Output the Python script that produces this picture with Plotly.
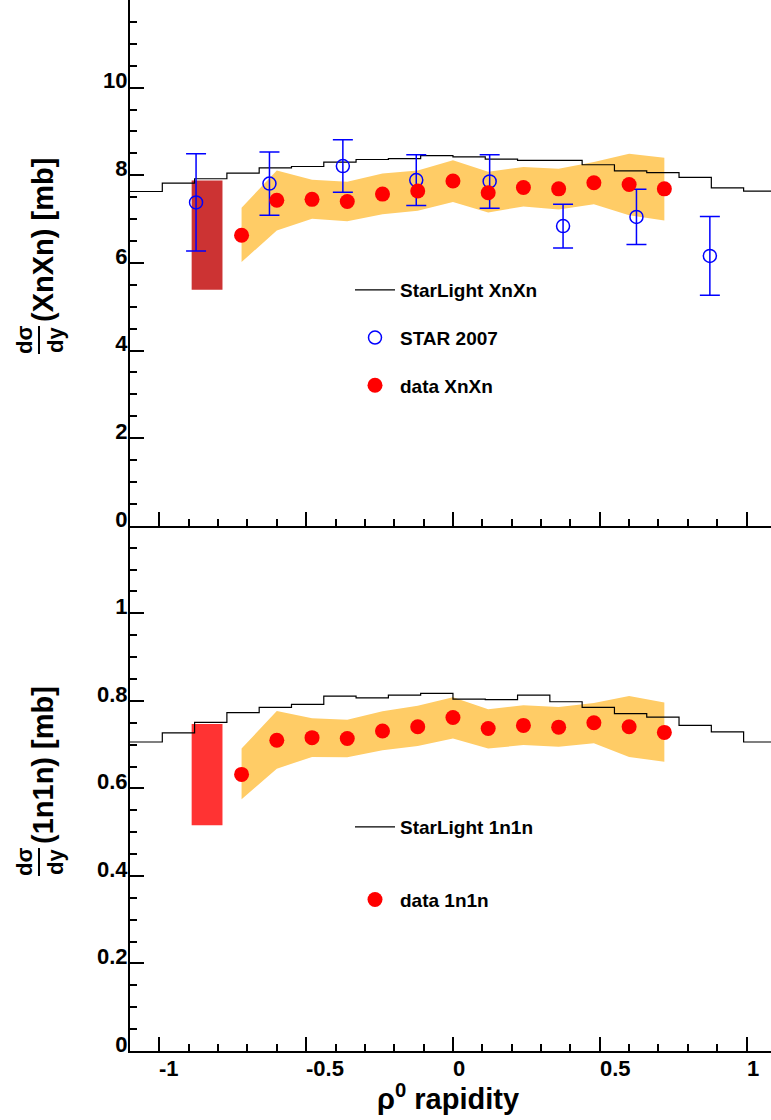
import plotly.graph_objects as go

# ---------------- data ----------------
rap_points = [-0.72, -0.60, -0.48, -0.36, -0.24, -0.12, 0.0, 0.12, 0.24, 0.36, 0.48, 0.60, 0.72]

xnxn_data = [6.63, 7.43, 7.45, 7.40, 7.57, 7.64, 7.87, 7.60, 7.72, 7.69, 7.83, 7.79, 7.69]
xnxn_sys_hi = [7.26, 8.11, 7.90, 7.85, 8.04, 8.11, 8.34, 8.08, 8.19, 8.15, 8.30, 8.49, 8.40]
xnxn_sys_lo = [6.02, 6.74, 7.01, 6.95, 7.11, 7.19, 7.39, 7.15, 7.29, 7.22, 7.34, 7.09, 6.97]

n1n1_data = [0.632, 0.710, 0.716, 0.714, 0.731, 0.741, 0.762, 0.737, 0.744, 0.740, 0.750, 0.741, 0.728]
n1n1_sys_hi = [0.691, 0.777, 0.760, 0.757, 0.776, 0.789, 0.808, 0.781, 0.790, 0.786, 0.795, 0.811, 0.796]
n1n1_sys_lo = [0.575, 0.645, 0.672, 0.671, 0.687, 0.697, 0.714, 0.691, 0.699, 0.695, 0.703, 0.672, 0.661]

star_x = [-0.875, -0.625, -0.375, -0.125, 0.125, 0.375, 0.625, 0.875]
star_y = [7.38, 7.81, 8.21, 7.89, 7.86, 6.84, 7.05, 6.16]
star_err = [1.11, 0.72, 0.60, 0.58, 0.61, 0.50, 0.63, 0.90]

sl_edges = [-1.10, -0.99, -0.88, -0.77, -0.66, -0.55, -0.44, -0.33, -0.22, -0.11, 0.0,
            0.11, 0.22, 0.33, 0.44, 0.55, 0.66, 0.77, 0.88, 0.99, 1.10]
sl_xnxn = [7.63, 7.82, 7.92, 8.05, 8.17, 8.20, 8.30, 8.36, 8.38, 8.45,
           8.42, 8.37, 8.34, 8.34, 8.24, 8.10, 8.06, 7.95, 7.71, 7.64]
sl_1n1n = [0.706, 0.727, 0.751, 0.773, 0.785, 0.792, 0.811, 0.807, 0.813, 0.817,
           0.804, 0.803, 0.813, 0.798, 0.785, 0.771, 0.763, 0.744, 0.729, 0.706]

norm_box_x = [-0.89, -0.785]
xnxn_norm = [5.39, 7.88]
n1n1_norm = [0.516, 0.747]

x_tick_vals = [-1, -0.5, 0, 0.5, 1]
x_tick_text = ["-1", "-0.5", "0", "0.5", "1"]
top_tick_vals = [0, 2, 4, 6, 8, 10]
top_tick_text = ["0", "2", "4", "6", "8", "10"]
bot_tick_vals = [0, 0.2, 0.4, 0.6, 0.8, 1.0]
bot_tick_text = ["0", "0.2", "0.4", "0.6", "0.8", "1"]

# ---------------- style ----------------
FONT = "Liberation Sans, Arial, Helvetica, sans-serif"
BAND = "#ffcc66"
W, H = 771, 1120
ML, MB = 130, 69
PW, PH = W - ML, H - MB
SPLIT = 1 - 525.8 / PH


def px_x(p):
    return (p - ML) / PW


def px_y(p):
    return (PH - p) / PH


fig = go.Figure()


def add_panel(xa, ya, hi, lo, sl, norm, norm_color, sl_name, legend):
    fig.add_trace(go.Scatter(
        x=rap_points + rap_points[::-1], y=hi + lo[::-1], fill="toself",
        fillcolor=BAND, line=dict(width=0), mode="lines", hoverinfo="skip",
        showlegend=False, xaxis=xa, yaxis=ya))
    bx = [norm_box_x[0], norm_box_x[1], norm_box_x[1], norm_box_x[0]]
    by = [norm[0], norm[0], norm[1], norm[1]]
    fig.add_trace(go.Scatter(
        x=bx, y=by, fill="toself", fillcolor=norm_color, line=dict(width=0),
        mode="lines", showlegend=False, xaxis=xa, yaxis=ya))
    fig.add_trace(go.Scatter(
        x=sl_edges, y=sl + [sl[-1]], mode="lines",
        line=dict(color="black", width=1.2, shape="hv"),
        name=sl_name, legend=legend, legendgroup=sl_name, xaxis=xa, yaxis=ya))


# top panel
add_panel("x2", "y2", xnxn_sys_hi, xnxn_sys_lo, sl_xnxn, xnxn_norm, "#cc3333",
          "StarLight XnXn", "legend")
fig.add_trace(go.Scatter(
    x=star_x, y=star_y, mode="markers", name="STAR 2007", legend="legend", legendgroup="star",
    marker=dict(symbol="circle-open", size=13, color="blue", line=dict(width=1.5, color="blue")),
    error_y=dict(type="data", array=star_err, color="blue", thickness=1.5, width=10),
    xaxis="x2", yaxis="y2"))
fig.add_trace(go.Scatter(
    x=rap_points, y=xnxn_data, mode="markers", name="data XnXn", legend="legend",
    legendgroup="dataX", marker=dict(symbol="circle", size=15, color="red"),
    xaxis="x2", yaxis="y2"))

# bottom panel
add_panel("x", "y", n1n1_sys_hi, n1n1_sys_lo, sl_1n1n, n1n1_norm, "#ff3333",
          "StarLight 1n1n", "legend2")
fig.add_trace(go.Scatter(
    x=rap_points, y=n1n1_data, mode="markers", name="data 1n1n", legend="legend2",
    legendgroup="data1", marker=dict(symbol="circle", size=15, color="red"),
    xaxis="x", yaxis="y"))

tickfont = dict(family=FONT, size=22, color="black", weight="bold")
common_x = dict(range=[-1.1, -1.1 + PW / 293.6], showgrid=False, zeroline=False,
                showline=True, linecolor="black", linewidth=2,
                ticks="inside", ticklen=14, tickwidth=1.5, tickcolor="black",
                tickvals=x_tick_vals, showticklabels=False,
                minor=dict(dtick=0.1, ticks="inside", ticklen=7, tickwidth=1.5, tickcolor="black"))
common_y = dict(showgrid=False, zeroline=False, showline=True, linecolor="black", linewidth=2,
                ticks="inside", ticklen=14, tickwidth=1.5, tickcolor="black",
                tickfont=tickfont, ticklabelshift=-7, ticklabelstandoff=-4)

fig.update_layout(
    width=W, height=H, margin=dict(l=ML, r=0, t=0, b=MB),
    paper_bgcolor="white", plot_bgcolor="white",
    xaxis=dict(domain=[0, 1], anchor="y", **common_x),
    xaxis2=dict(domain=[0, 1], anchor="y2", matches="x", **common_x),
    yaxis=dict(domain=[0, SPLIT], anchor="x", range=[0, 1.2], tickvals=bot_tick_vals,
               ticktext=bot_tick_text,
               minor=dict(dtick=0.05, ticks="inside", ticklen=7, tickwidth=1.5, tickcolor="black"),
               **common_y),
    yaxis2=dict(domain=[SPLIT, 1], anchor="x2", range=[0, 12], tickvals=top_tick_vals,
                ticktext=top_tick_text,
                minor=dict(dtick=0.5, ticks="inside", ticklen=7, tickwidth=1.5, tickcolor="black"),
                **common_y),
    legend=dict(x=px_x(350), y=px_y(271), xanchor="left", yanchor="top",
                bgcolor="rgba(0,0,0,0)", itemwidth=40, tracegroupgap=20, traceorder="grouped",
                font=dict(family=FONT, size=19, color="black", weight="bold")),
    legend2=dict(x=px_x(350), y=px_y(808), xanchor="left", yanchor="top",
                 bgcolor="rgba(0,0,0,0)", itemwidth=40, tracegroupgap=45, traceorder="grouped",
                 font=dict(family=FONT, size=19, color="black", weight="bold")),
)

ann = []
for v, t in zip(x_tick_vals, x_tick_text):
    ann.append(dict(x=v, y=px_y(1068), xref="x", yref="paper", text=t, showarrow=False,
                    xanchor="left", yanchor="middle", xshift=-2, font=tickfont))

title_font = dict(family=FONT, size=29, color="black", weight="bold")
frac_font = dict(family=FONT, size=22, color="black", weight="bold")
ann.append(dict(x=px_x(448), y=px_y(1097), xref="paper", yref="paper",
                text="ρ<sup>0</sup> rapidity", showarrow=False, xanchor="center",
                yanchor="middle", font=title_font))

for main_text, cy_main, cy_frac in [("(XnXn) [mb]", 240, 340), ("(1n1n) [mb]", 765, 862)]:
    ann.append(dict(x=px_x(43), y=px_y(cy_main), xref="paper", yref="paper", text=main_text,
                    textangle=-90, showarrow=False, xanchor="center", yanchor="middle",
                    font=title_font))
    ann.append(dict(x=px_x(24), y=px_y(cy_frac), xref="paper", yref="paper", text="dσ",
                    textangle=-90, showarrow=False, xanchor="center", yanchor="middle",
                    font=frac_font))
    ann.append(dict(x=px_x(55), y=px_y(cy_frac), xref="paper", yref="paper", text="dy",
                    textangle=-90, showarrow=False, xanchor="center", yanchor="middle",
                    font=frac_font))
    fig.add_shape(type="line", xref="paper", yref="paper",
                  x0=px_x(39), x1=px_x(39), y0=px_y(cy_frac - 14), y1=px_y(cy_frac + 14),
                  line=dict(color="black", width=2))

fig.update_layout(annotations=ann)
fig.write_html("out.html", config={"displayModeBar": False},
               post_script="document.body.style.margin='0px';")
